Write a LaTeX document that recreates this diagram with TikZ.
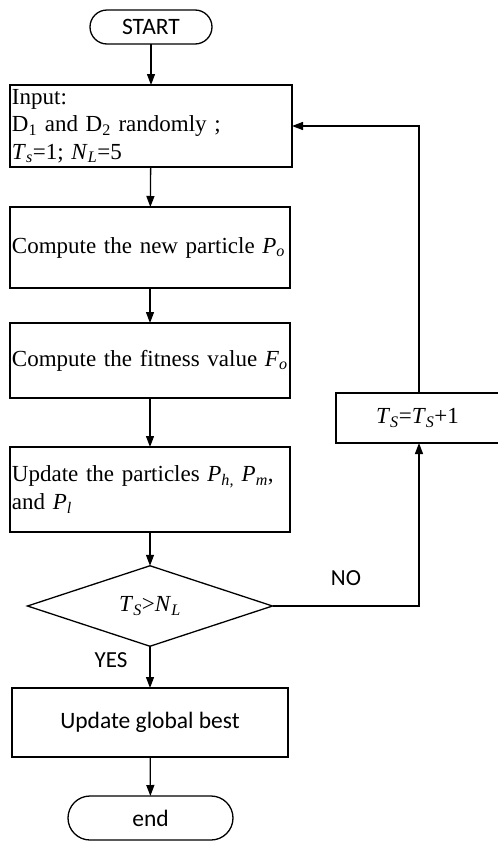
\documentclass[tikz,border=0pt]{standalone}
\usepackage{fontspec}
\setmainfont{Liberation Serif}[WordSpace=0.75]
\newfontfamily\labfont{Carlito}
\usetikzlibrary{shapes.geometric,arrows.meta}
\newcommand{\vs}[2]{\textit{#1}\textsubscript{\textit{#2}}}
\begin{document}
\begin{tikzpicture}[x=1pt,y=-1pt,
  every node/.style={inner sep=0pt,outer sep=0pt},
  ln/.style={line width=1.3pt},
  arr/.style={ln,-{Triangle[length=11pt,width=8pt]}},
  box/.style={draw,ln,rectangle,font=\fontsize{23}{27.5}\selectfont},
  lbox/.style={box,align=left,text width=#1},
  term/.style={draw,ln,rectangle,font=\labfont\fontsize{23.5}{28}\selectfont},
  lab/.style={font=\labfont\fontsize{23}{28}\selectfont}]
\useasboundingbox (0,0) rectangle (498,841);
\node[term,rounded corners=17pt,minimum width=122pt,minimum height=34pt] (start) at (151,27) {START};
\node[lbox=278pt,minimum width=282pt,minimum height=82pt] (input) at (151,126)
  {Input:\\D\textsubscript{1} and D\textsubscript{2} randomly ;\\\vs{T}{s}=1; \vs{N}{L}=5};
\node[lbox=276pt,minimum width=280pt,minimum height=81pt] (comp1) at (150,247.5)
  {Compute the new particle \vs{P}{o}};
\node[lbox=276pt,minimum width=280pt,minimum height=75pt] (comp2) at (150,360.5)
  {Compute the fitness value \vs{F}{o}};
\node[lbox=276pt,minimum width=280pt,minimum height=85pt] (upd) at (150,489.5)
  {Update the particles \vs{P}{h,} \vs{P}{m},\\and \vs{P}{l}};
\node[box,diamond,minimum width=245pt,minimum height=69pt] (dia) at (150,606)
  {\vs{T}{S}>\vs{N}{L}};
\node[box,minimum width=163pt,minimum height=50pt] (ts) at (417.5,418)
  {\vs{T}{S}=\vs{T}{S}+1};
\node[term,minimum width=276pt,minimum height=69pt] (glob) at (150,722.5) {Update global best};
\node[term,rounded corners=22pt,minimum width=165pt,minimum height=44pt] (end) at (150.5,818) {end};
\coordinate (vx) at (419,0);
\draw[arr] (start) -- (input);
\draw[arr] (input) -- (comp1);
\draw[arr] (comp1) -- (comp2);
\draw[arr] (comp2) -- (upd);
\draw[arr] (upd) -- (dia);
\draw[arr] (dia) -- (glob);
\draw[arr] (glob) -- (end);
\draw[arr] (dia.east) -| (vx |- ts.south);
\draw[arr] (vx |- ts.north) |- (input.east);
\node[lab] (no) at (346,578) {NO};
\node[lab] (yes) at (111,660) {YES};
\end{tikzpicture}
\end{document}
